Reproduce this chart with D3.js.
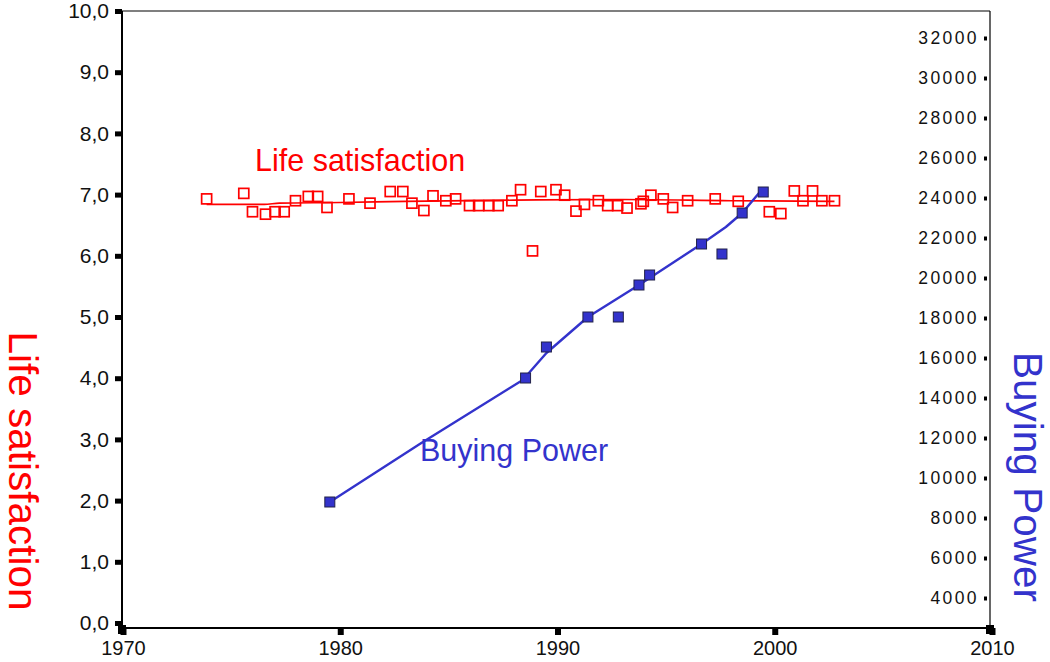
<!DOCTYPE html>
<html>
<head>
<meta charset="utf-8">
<script src="https://cdn.jsdelivr.net/npm/d3@7"></script>
<style>
  html, body { margin: 0; padding: 0; background: #fff; }
  svg { display: block; }
  text { font-family: "Liberation Sans", Arial, sans-serif; }
</style>
</head>
<body>
<svg id="chart" width="1050" height="662"></svg>
<script>
// ---------- data ----------
const xTicks = [1970, 1980, 1990, 2000, 2010];
const leftTicks = [0, 1, 2, 3, 4, 5, 6, 7, 8, 9, 10];
const rightTicks = [4000, 6000, 8000, 10000, 12000, 14000, 16000, 18000, 20000, 22000, 24000, 26000, 28000, 30000, 32000];

const lsYears = [1973.85, 1975.56, 1975.96, 1976.56, 1977.0, 1977.42, 1977.94, 1978.53, 1978.96, 1979.39,
  1980.4, 1981.37, 1982.3, 1982.88, 1983.3, 1983.85, 1984.27, 1984.86, 1985.31, 1985.95,
  1986.37, 1986.84, 1987.27, 1987.9, 1988.3, 1988.85, 1989.23, 1989.93, 1990.33, 1990.85,
  1991.24, 1991.88, 1992.31, 1992.77, 1993.2, 1993.84, 1993.95, 1994.3, 1994.87, 1995.3,
  1995.99, 1997.26, 1998.32, 1999.75, 2000.28, 2000.9, 2001.3, 2001.74, 2002.17, 2002.75];
const lsValues = [6.93, 7.02, 6.72, 6.68, 6.72, 6.72, 6.90, 6.97, 6.97, 6.79,
  6.93, 6.86, 7.05, 7.05, 6.86, 6.74, 6.98, 6.90, 6.93, 6.82,
  6.82, 6.82, 6.82, 6.90, 7.08, 6.08, 7.05, 7.08, 6.99, 6.73,
  6.84, 6.90, 6.82, 6.82, 6.78, 6.85, 6.89, 6.99, 6.93, 6.79,
  6.90, 6.93, 6.89, 6.72, 6.69, 7.06, 6.90, 7.06, 6.90, 6.90];

const lsFitYears = [1973.85, 1976.5, 1977.2, 1980, 1983, 1988, 1993, 1998, 2002.75];
const lsFitValues = [6.84, 6.84, 6.86, 6.87, 6.89, 6.91, 6.92, 6.90, 6.89];

const bpYears = [1979.52, 1988.53, 1989.49, 1991.4, 1992.8, 1993.75, 1994.24, 1996.63, 1997.57, 1998.5, 1999.47];
const bpValues = [8800, 15000, 16550, 18050, 18050, 19650, 20150, 21700, 21200, 23250, 24300];

const bpFitYears = [1979.52, 1983.66, 1988.4, 1989.49, 1991.4, 1993.75, 1996.63, 1997.75, 1998.5, 1999.47];
const bpFitValues = [8800, 11700, 14900, 16250, 18050, 19650, 21700, 22550, 23250, 24500];

// ---------- layout ----------
const svg = d3.select("#chart");
const pLeft = 122, pRight = 990, pTop = 11, pBottom = 628;
const RED = "#ff0000", BLUE = "#3333cc";

const x = d3.scaleLinear().domain([1970, 2010]).range([pLeft + 1, pRight + 2]);
const yL = d3.scaleLinear().domain([0, 10]).range([623, pTop]);
const yR = d3.scaleLinear().domain([4000, 32000]).range([598, 38]);

// frame
svg.append("line").attr("x1", pLeft).attr("x2", pRight).attr("y1", pTop).attr("y2", pTop)
  .attr("stroke", "#000").attr("stroke-width", 1.2);
svg.append("line").attr("x1", pRight).attr("x2", pRight).attr("y1", pTop).attr("y2", pBottom)
  .attr("stroke", "#000").attr("stroke-width", 1.2);

// left axis
const gL = svg.append("g").attr("transform", `translate(${pLeft},0)`)
  .call(d3.axisLeft(yL).tickValues(leftTicks).tickSize(7).tickPadding(6)
    .tickFormat(d => d3.format(".1f")(d).replace(".", ",")));
gL.select(".domain").attr("stroke", "#000").attr("stroke-width", 2).attr("d", `M0,${pTop}V${pBottom}`);
gL.selectAll(".tick line").attr("stroke", "#000").attr("stroke-width", 5);
gL.selectAll(".tick text").attr("font-size", 21).attr("fill", "#111");

// bottom axis
const gB = svg.append("g").attr("transform", `translate(0,${pBottom})`)
  .call(d3.axisBottom(x).tickValues(xTicks).tickSize(7).tickPadding(6).tickFormat(d3.format("d")));
gB.select(".domain").attr("stroke", "#000").attr("stroke-width", 2).attr("d", `M${pLeft},0H${pRight}`);
gB.selectAll(".tick line").attr("stroke", "#000").attr("stroke-width", 6);
gB.selectAll(".tick text").attr("font-size", 20).attr("fill", "#111");

// corner blocks
[[pLeft, pBottom], [pRight, pBottom]].forEach(([cx, cy]) => {
  svg.append("rect").attr("x", cx - 4).attr("y", cy - 3).attr("width", 8).attr("height", 9).attr("fill", "#000");
});

// right axis (ticks inside the frame)
const gR = svg.append("g").attr("transform", `translate(${pRight - 3},0)`)
  .call(d3.axisLeft(yR).tickValues(rightTicks).tickSize(3).tickPadding(5).tickFormat(d3.format("d")));
gR.select(".domain").remove();
gR.selectAll(".tick line").attr("stroke", "#000").attr("stroke-width", 4);
gR.selectAll(".tick text").attr("font-size", 17.5).attr("letter-spacing", 2.4).attr("fill", "#111");

// ---------- series ----------
const lsLine = d3.line().x((d, i) => x(lsFitYears[i])).y(d => yL(d)).curve(d3.curveMonotoneX);
svg.append("path").datum(lsFitValues).attr("d", lsLine)
  .attr("fill", "none").attr("stroke", RED).attr("stroke-width", 1.6);

svg.append("g").selectAll("rect").data(lsValues).join("rect")
  .attr("x", (d, i) => x(lsYears[i]) - 5).attr("y", d => yL(d) - 5)
  .attr("width", 10).attr("height", 10)
  .attr("fill", "none").attr("stroke", RED).attr("stroke-width", 1.7);

const bpLine = d3.line().x((d, i) => x(bpFitYears[i])).y(d => yR(d)).curve(d3.curveLinear);
svg.append("path").datum(bpFitValues).attr("d", bpLine)
  .attr("fill", "none").attr("stroke", BLUE).attr("stroke-width", 2.4).attr("stroke-linejoin", "round");

svg.append("g").selectAll("rect").data(bpValues).join("rect")
  .attr("x", (d, i) => x(bpYears[i]) - 5).attr("y", d => yR(d) - 5)
  .attr("width", 10).attr("height", 10)
  .attr("fill", BLUE).attr("stroke", "#22224a").attr("stroke-width", 1);

// ---------- labels ----------
svg.append("text").attr("x", 255).attr("y", 171).attr("font-size", 30.5).attr("fill", RED)
  .text("Life satisfaction");
svg.append("text").attr("x", 420).attr("y", 461).attr("font-size", 30.5).attr("fill", BLUE)
  .text("Buying Power");

svg.append("text").attr("transform", "translate(9,471) rotate(90)").attr("text-anchor", "middle")
  .attr("font-size", 40.5).attr("fill", RED).text("Life satisfaction");
svg.append("text").attr("transform", "translate(1014,477) rotate(90)").attr("text-anchor", "middle")
  .attr("font-size", 40.5).attr("fill", BLUE).text("Buying Power");
</script>
</body>
</html>
